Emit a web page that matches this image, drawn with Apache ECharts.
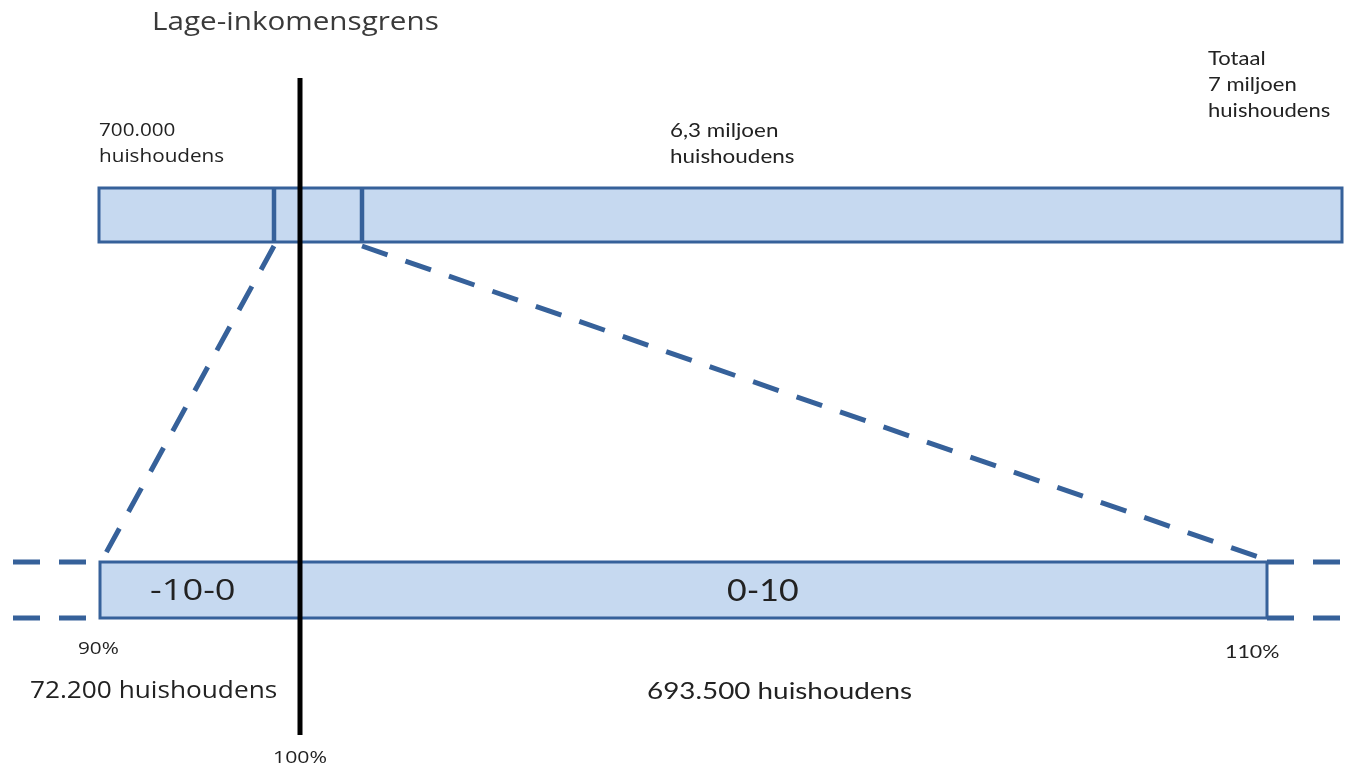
<!DOCTYPE html>
<html>
<head>
<meta charset="utf-8">
<script src="https://cdn.jsdelivr.net/npm/echarts@6/dist/echarts.min.js"></script>
<style>
  html, body { margin: 0; padding: 0; background: #fff; }
  #main { width: 1353px; height: 766px; }
</style>
</head>
<body>
<div id="main"></div>
<script>
// diagram units: x 0..1353 left->right, y 0..766 top->bottom
var topBar = [99, 1342, 188, 242];          // x0, x1, y0, y1
var topDividers = [274, 362];
var bottomBar = [100, 1267, 562, 618];
var incomeLine = [[300, 78], [300, 735]];   // lage-inkomensgrens (100%)
var zoomLeft = [[274, 246], [101, 562]];
var zoomRight = [[362, 246], [1264, 559]];
var sideDashTop = [[[13, 562], [100, 562]], [[1267, 562], [1342, 562]]];
var sideDashBottom = [[[13, 618], [100, 618]], [[1267, 618], [1342, 618]]];

var labelTexts = [
  'Lage-inkomensgrens',
  '700.000\nhuishoudens',
  '6,3 miljoen\nhuishoudens',
  'Totaal\n7 miljoen\nhuishoudens',
  '-10-0',
  '0-10',
  '90%',
  '110%',
  '72.200 huishoudens',
  '693.500 huishoudens',
  '100%'
];
var labelAnchors = [
  [152, 23], [99, 118], [670, 118], [1208, 46], [150, 591], [727, 591],
  [78, 649], [1225, 653], [30, 691], [647, 691], [273, 758]
];

var myChart = echarts.init(document.getElementById('main'));

var blue = '#36619a';
var fill = '#c6d9f0';
var segoe = '"Open Sans", "Noto Sans", sans-serif';
var calibri = 'Lato, "Liberation Sans", sans-serif';
// the source picture is stretched a bit horizontally, so text gets a scaleX
var labelStyles = [
  { size: 26, sx: 1.14, family: segoe, color: '#3a3a3a', va: 'middle' },
  { size: 18, sx: 1.15, family: segoe, color: '#222', va: 'top', lh: 26 },
  { size: 19, sx: 1.18, family: calibri, color: '#222', va: 'top', lh: 26 },
  { size: 19, sx: 1.16, family: calibri, color: '#222', va: 'top', lh: 26 },
  { size: 30, sx: 1.21, family: segoe, color: '#222', va: 'middle' },
  { size: 30, sx: 1.13, family: calibri, color: '#222', va: 'middle' },
  { size: 17, sx: 1.22, family: segoe, color: '#222', va: 'middle' },
  { size: 17, sx: 1.26, family: calibri, color: '#222', va: 'middle' },
  { size: 23, sx: 1.14, family: segoe, color: '#222', va: 'middle' },
  { size: 24, sx: 1.16, family: calibri, color: '#222', va: 'middle' },
  { size: 17, sx: 1.25, family: segoe, color: '#222', va: 'middle' }
];

function rectItem(params, api) {
  var p0 = api.coord([api.value(0), api.value(2)]);
  var p1 = api.coord([api.value(1), api.value(3)]);
  return {
    type: 'rect',
    shape: { x: p0[0], y: p0[1], width: p1[0] - p0[0], height: p1[1] - p0[1] },
    style: { fill: fill, stroke: blue, lineWidth: 3 }
  };
}

function dashSeries(pts, z) {
  return {
    type: 'line', data: pts, symbol: 'none', silent: true, z: z || 2,
    lineStyle: { color: blue, width: 5, type: [27, 19] }
  };
}

var series = [
  { type: 'custom', renderItem: rectItem, data: [topBar, bottomBar], z: 1 }
];

topDividers.forEach(function (x) {
  series.push({
    type: 'line', data: [[x, topBar[2]], [x, topBar[3]]], symbol: 'none', z: 2,
    lineStyle: { color: blue, width: 4.5 }
  });
});

series.push(dashSeries(zoomLeft));
series.push(dashSeries(zoomRight));
sideDashTop.concat(sideDashBottom).forEach(function (d) { series.push(dashSeries(d)); });

series.push({
  type: 'line', data: incomeLine, symbol: 'none', z: 5,
  lineStyle: { color: '#000', width: 5 }
});

series.push({
  type: 'custom', z: 6,
  data: labelAnchors.map(function (a, i) { return [a[0], a[1], i]; }),
  renderItem: function (params, api) {
    var i = api.value(2);
    var s = labelStyles[i];
    var p = api.coord([api.value(0), api.value(1)]);
    return {
      type: 'text', x: p[0], y: p[1], scaleX: s.sx,
      style: {
        text: labelTexts[i],
        font: s.size + 'px ' + s.family,
        fill: s.color,
        align: 'left',
        verticalAlign: s.va,
        lineHeight: s.lh || s.size * 1.2
      }
    };
  }
});

option = {
  animation: false,
  grid: { left: 0, right: 0, top: 0, bottom: 0 },
  xAxis: { type: 'value', min: 0, max: 1353, show: false },
  yAxis: { type: 'value', min: 0, max: 766, inverse: true, show: false },
  series: series
};

myChart.setOption(option);
</script>
</body>
</html>
